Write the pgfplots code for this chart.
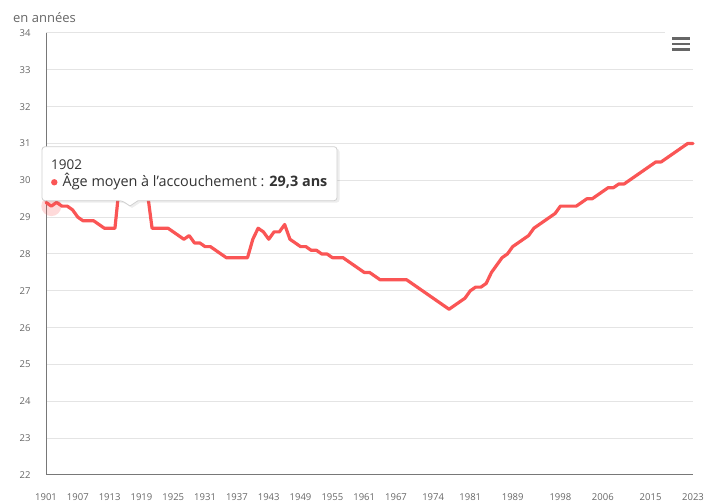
\documentclass[border=0pt]{standalone}
\usepackage{fontspec}
\setmainfont{Open Sans}
\usepackage{pgfplots}
\pgfplotsset{compat=1.18}
\definecolor{linered}{RGB}{250,85,85}
\definecolor{gridc}{RGB}{228,228,228}
\definecolor{labc}{RGB}{102,102,102}
\definecolor{axc}{RGB}{120,120,120}
\definecolor{txt}{RGB}{51,51,51}
\pgfplotstableread{
year age
1901 29.4
1902 29.3
1903 29.4
1904 29.3
1905 29.3
1906 29.2
1907 29.0
1908 28.9
1909 28.9
1910 28.9
1911 28.8
1912 28.7
1913 28.7
1914 28.7
1915 30.1
1916 30.4
1917 30.5
1918 30.3
1919 30.1
1920 29.8
1921 28.7
1922 28.7
1923 28.7
1924 28.7
1925 28.6
1926 28.5
1927 28.4
1928 28.5
1929 28.3
1930 28.3
1931 28.2
1932 28.2
1933 28.1
1934 28.0
1935 27.9
1936 27.9
1937 27.9
1938 27.9
1939 27.9
1940 28.4
1941 28.7
1942 28.6
1943 28.4
1944 28.6
1945 28.6
1946 28.8
1947 28.4
1948 28.3
1949 28.2
1950 28.2
1951 28.1
1952 28.1
1953 28.0
1954 28.0
1955 27.9
1956 27.9
1957 27.9
1958 27.8
1959 27.7
1960 27.6
1961 27.5
1962 27.5
1963 27.4
1964 27.3
1965 27.3
1966 27.3
1967 27.3
1968 27.3
1969 27.3
1970 27.2
1971 27.1
1972 27.0
1973 26.9
1974 26.8
1975 26.7
1976 26.6
1977 26.5
1978 26.6
1979 26.7
1980 26.8
1981 27.0
1982 27.1
1983 27.1
1984 27.2
1985 27.5
1986 27.7
1987 27.9
1988 28.0
1989 28.2
1990 28.3
1991 28.4
1992 28.5
1993 28.7
1994 28.8
1995 28.9
1996 29.0
1997 29.1
1998 29.3
1999 29.3
2000 29.3
2001 29.3
2002 29.4
2003 29.5
2004 29.5
2005 29.6
2006 29.7
2007 29.8
2008 29.8
2009 29.9
2010 29.9
2011 30.0
2012 30.1
2013 30.2
2014 30.3
2015 30.4
2016 30.5
2017 30.5
2018 30.6
2019 30.7
2020 30.8
2021 30.9
2022 31.0
2023 31.0
}\agedata
\begin{document}
\begin{tikzpicture}[x=1pt,y=1pt]
\useasboundingbox (0,0) rectangle (705,502);
\begin{axis}[
  at={(46pt,27pt)}, anchor=south west,
  scale only axis, width=647pt, height=442pt,
  xmin=1901, xmax=2023, ymin=22, ymax=34,
  xtick={1901,1907,1913,1919,1925,1931,1937,1943,1949,1955,1961,1967,1974,1981,1989,1998,2006,2015,2023},
  ytick={22,23,...,34},
  ymajorgrids, major grid style={draw=gridc, line width=1pt},
  axis x line*=bottom, axis y line*=left,
  axis line style={draw=axc, line width=1pt, -},
  major tick length=0pt, tick style={draw=none},
  /pgf/number format/assume math mode=true,
  /pgf/number format/1000 sep={},
  ticklabel style={font=\fontsize{9.5}{11}\selectfont, text=labc},
  xticklabel style={yshift=-15pt},
  yticklabel style={xshift=-12pt},
  clip=false,
]
\addplot[only marks, mark=*, mark size=10pt, draw opacity=0, mark options={draw opacity=0, draw=linered, fill=linered, fill opacity=0.22}] coordinates {(1902,29.3)};
\addplot[linered, line width=3.2pt, line join=round, line cap=round] table[x=year, y=age] {\agedata};
\end{axis}
% axis unit label
\node[anchor=base west, inner sep=0, text=labc, font=\fontsize{13}{15}\selectfont] at (13,479) {en années};
% menu button
\fill[white] (665,440) rectangle (698,474);
\foreach \yy in {463.7,458,452.7}{\draw[labc, line width=2.6pt] (672,\yy) -- (690,\yy);}
% tooltip
\fill[black, opacity=0.07, rounded corners=3pt] (44,299.3) -- (124,299.3) [sharp corners] -- (132,294) -- (140,299.3) [rounded corners=3pt] -- (339.5,299.3) -- (339.5,353.3) -- (44,353.3) -- cycle;
\filldraw[fill=white, draw=gridc!80!gray, line width=0.8pt, rounded corners=3pt] (42,301.3) -- (122,301.3) [sharp corners] -- (130,296) -- (138,301.3) [rounded corners=3pt] -- (337,301.3) -- (337,355.3) -- (42,355.3) -- cycle;
\node[anchor=base west, inner sep=0, text=txt, font=\fontsize{13.5}{15}\selectfont] at (51,332) {1902};
\fill[linered] (54.3,319.7) circle (3.2);
\node[anchor=base west, inner sep=0, text=txt, font=\fontsize{14.4}{16}\selectfont] at (62.5,315.3) {Âge moyen à l’accouchement : \textbf{29,3 ans}};
\end{tikzpicture}
\end{document}
